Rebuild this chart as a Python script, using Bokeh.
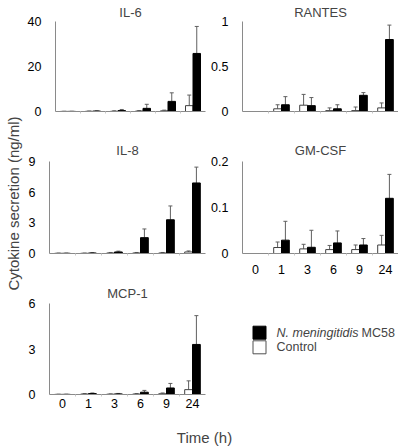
import math
from bokeh.plotting import figure
from bokeh.models import (Range1d, FixedTicker, Whisker, TeeHead, ColumnDataSource, Label)
from bokeh.layouts import row, column
from bokeh.embed import file_html
from bokeh.resources import INLINE

# ---------------- data ----------------
times = ["0", "1", "3", "6", "9", "24"]

il6_ctrl = [0.05, 0.1, 0.1, 0.2, 0.3, 2.6]
il6_ctrl_err = [0.05, 0.1, 0.2, 0.2, 0.3, 4.7]
il6_mc = [0.05, 0.2, 0.4, 1.4, 4.5, 25.8]
il6_mc_err = [0.05, 0.1, 0.5, 1.8, 3.8, 12.0]
il6_ticks = [0, 20, 40]
il6_labels = ["0", "20", "40"]

rantes_ctrl = [0.0, 0.03, 0.07, 0.01, 0.01, 0.04]
rantes_ctrl_err = [0.0, 0.045, 0.12, 0.03, 0.04, 0.055]
rantes_mc = [0.0, 0.075, 0.065, 0.03, 0.18, 0.80]
rantes_mc_err = [0.0, 0.09, 0.09, 0.045, 0.03, 0.16]
rantes_ticks = [0, 0.5, 1]
rantes_labels = ["0", "0.5", "1"]

il8_ctrl = [0.02, 0.02, 0.05, 0.05, 0.05, 0.15]
il8_ctrl_err = [0.02, 0.02, 0.05, 0.05, 0.05, 0.1]
il8_mc = [0.02, 0.05, 0.15, 1.55, 3.3, 6.9]
il8_mc_err = [0.02, 0.03, 0.08, 0.85, 1.35, 1.55]
il8_ticks = [0, 3, 6, 9]
il8_labels = ["0", "3", "6", "9"]

gm_ctrl = [0.0, 0.013, 0.01, 0.0085, 0.0085, 0.0185]
gm_ctrl_err = [0.0, 0.012, 0.01, 0.009, 0.01, 0.021]
gm_mc = [0.0, 0.029, 0.0135, 0.023, 0.0185, 0.12]
gm_mc_err = [0.0, 0.041, 0.037, 0.026, 0.014, 0.052]
gm_ticks = [0, 0.1, 0.2]
gm_labels = ["0", "0.1", "0.2"]

mcp_ctrl = [0.01, 0.03, 0.02, 0.03, 0.05, 0.32]
mcp_ctrl_err = [0.01, 0.03, 0.02, 0.03, 0.05, 0.58]
mcp_mc = [0.01, 0.06, 0.04, 0.15, 0.43, 3.3]
mcp_mc_err = [0.01, 0.04, 0.03, 0.12, 0.3, 1.9]
mcp_ticks = [0, 3, 6]
mcp_labels = ["0", "3", "6"]

legend_mc = "N. meningitidis"
legend_mc_strain = "MC58"
legend_ctrl = "Control"
y_title = "Cytokine secretion (ng/ml)"
x_title = "Time (h)"

FONT = "Liberation Sans"
AXIS_COL = "#8a8a8a"
BW = 0.3


def panel(title, ctrl, ctrl_err, mc, mc_err, yticks, ylabels, width, height,
          bl, br, bt, bb, show_x, x_standoff=6, t_standoff=4):
    n = len(times)
    xs = list(range(n))
    src = ColumnDataSource(dict(
        xc=[i - BW / 2 for i in xs], xm=[i + BW / 2 for i in xs],
        ctrl=ctrl, ctrl_top=[a + b for a, b in zip(ctrl, ctrl_err)],
        mc=mc, mc_top=[a + b for a, b in zip(mc, mc_err)]))
    p = figure(width=width, height=height, output_backend="svg", toolbar_location=None,
               x_range=Range1d(-0.5, n - 0.5), y_range=Range1d(0, yticks[-1]),
               min_border_left=bl, min_border_right=br, min_border_top=bt,
               min_border_bottom=bb)
    p.outline_line_color = None
    p.grid.visible = False
    p.vbar(x="xc", top="ctrl", bottom=0, width=BW, source=src,
           fill_color="white", line_color="#404040", line_width=1)
    p.vbar(x="xm", top="mc", bottom=0, width=BW, source=src,
           fill_color="black", line_color="black", line_width=1)
    for base, lo, hi in (("xc", "ctrl", "ctrl_top"), ("xm", "mc", "mc_top")):
        w = Whisker(base=base, lower=lo, upper=hi, source=src, line_color="#606060",
                    line_width=1, lower_head=None,
                    upper_head=TeeHead(size=4, line_color="#606060", line_width=1))
        p.add_layout(w)
    p.title.text = title
    p.title.align = "center"
    p.title.text_font = FONT
    p.title.text_font_size = "13px"
    p.title.text_font_style = "normal"
    p.title.standoff = t_standoff

    xa = p.xaxis[0]
    xa.ticker = FixedTicker(ticks=xs, minor_ticks=[i + 0.5 for i in xs[:-1]])
    if show_x:
        xa.major_label_overrides = {i: t for i, t in zip(xs, times)}
    else:
        xa.major_label_overrides = {i: "" for i in xs}
    xa.major_tick_line_color = None
    xa.minor_tick_line_color = "#c8c8c8"
    xa.minor_tick_in = 0
    xa.minor_tick_out = 2
    xa.axis_line_color = AXIS_COL
    xa.major_label_text_font = FONT
    xa.major_label_text_font_size = "12.5px"
    xa.major_label_text_color = "black"
    xa.major_label_standoff = x_standoff

    ya = p.yaxis[0]
    ya.ticker = FixedTicker(ticks=yticks)
    ya.major_label_overrides = {t: l for t, l in zip(yticks, ylabels)}
    ya.major_tick_line_color = None
    ya.minor_tick_line_color = None
    ya.axis_line_color = AXIS_COL
    ya.major_label_text_font = FONT
    ya.major_label_text_font_size = "12.5px"
    ya.major_label_text_color = "black"
    ya.major_label_standoff = 8
    return p


YW, LW, RW = 24, 184, 190
H1, H2, H3, H4 = 137, 144, 134, 32

il6 = panel("IL-6", il6_ctrl, il6_ctrl_err, il6_mc, il6_mc_err, il6_ticks, il6_labels,
            LW, H1, 25, 3, 19, 26, False, t_standoff=4)
rantes = panel("RANTES", rantes_ctrl, rantes_ctrl_err, rantes_mc, rantes_mc_err,
               rantes_ticks, rantes_labels, RW, H1, 34, 0, 19, 26, False, t_standoff=4)
il8 = panel("IL-8", il8_ctrl, il8_ctrl_err, il8_mc, il8_mc_err, il8_ticks, il8_labels,
            LW, H2, 25, 3, 22, 28, False, t_standoff=7)
gm = panel("GM-CSF", gm_ctrl, gm_ctrl_err, gm_mc, gm_mc_err, gm_ticks, gm_labels,
           RW, H2, 34, 0, 22, 28, True, x_standoff=5, t_standoff=7)
mcp = panel("MCP-1", mcp_ctrl, mcp_ctrl_err, mcp_mc, mcp_mc_err, mcp_ticks, mcp_labels,
            LW, H3, 25, 3, 20, 21, True, x_standoff=-2, t_standoff=5)


def blank(w, h):
    f = figure(width=w, height=h, output_backend="svg", toolbar_location=None,
               x_range=Range1d(0, w), y_range=Range1d(0, h),
               x_axis_type=None, y_axis_type=None,
               min_border_left=0, min_border_right=0, min_border_top=0, min_border_bottom=0)
    f.outline_line_color = None
    f.grid.visible = False
    return f


# legend panel
leg = blank(RW, H3)
leg.scatter(x=[51, 51], y=[H3 - 43, H3 - 64.5], marker="square", size=13,
            fill_color=["black", "white"], line_color=["black", "#505050"], line_width=1)
leg.add_layout(Label(x=68, y=H3 - 43, text=legend_mc, text_font=FONT,
                     text_font_size="12.5px", text_font_style="italic",
                     text_baseline="middle", text_align="left"))
leg.add_layout(Label(x=153, y=H3 - 43, text=legend_mc_strain, text_font=FONT,
                     text_font_size="12.5px", text_baseline="middle", text_align="left"))
leg.add_layout(Label(x=68, y=H3 - 64.5, text=legend_ctrl, text_font=FONT,
                     text_font_size="12.5px", text_baseline="middle", text_align="left"))

# x-axis title
xlab = blank(LW + RW, H4)
xlab.add_layout(Label(x=204 - YW, y=10, text=x_title, text_font=FONT, text_font_size="15px",
                      text_align="center", text_baseline="alphabetic"))

# y-axis title
TOT_H = H1 + H2 + H3 + H4
ylab = blank(YW, TOT_H)
ylab.add_layout(Label(x=12.5, y=TOT_H - 203, text=y_title, text_font=FONT,
                      text_font_size="15px", angle=math.pi / 2,
                      text_align="center", text_baseline="middle"))

root = row(ylab, column(row(il6, rantes), row(il8, gm), row(mcp, leg), xlab))

open("out.html", "w").write(file_html(root, INLINE))
